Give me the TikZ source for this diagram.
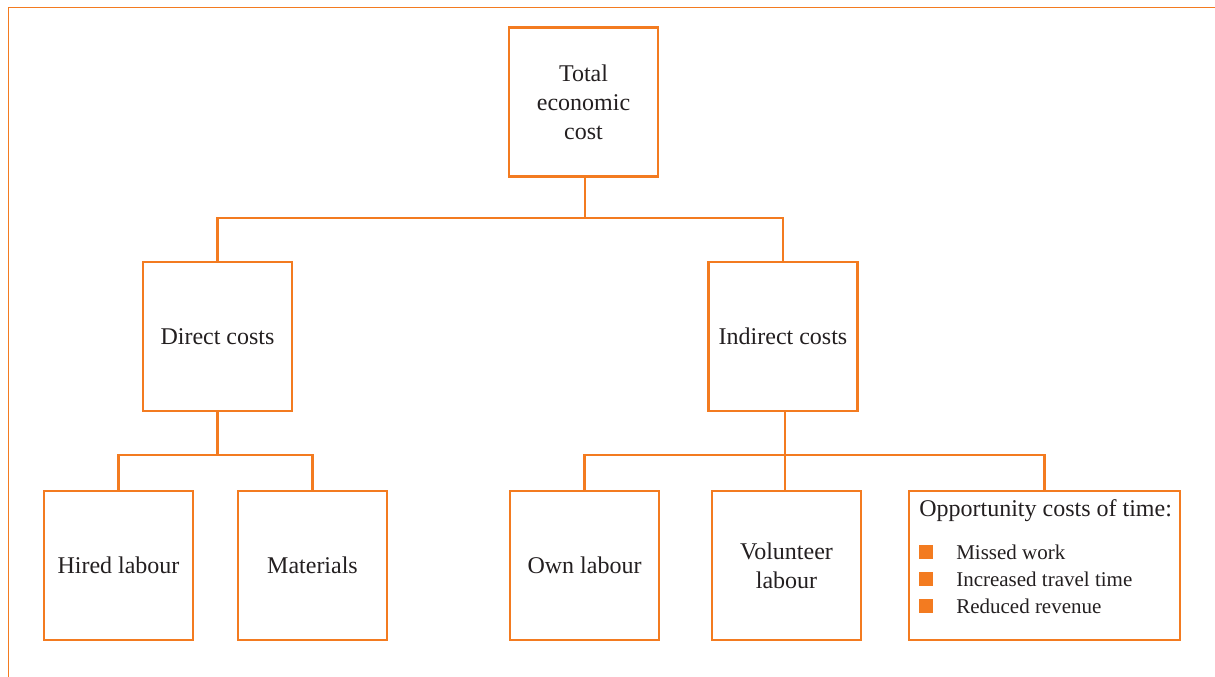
\documentclass[tikz,border=0pt]{standalone}
\usepackage{fontspec}
\setmainfont{Liberation Serif}
\usepackage{tikz}
\usetikzlibrary{positioning, calc}
\definecolor{costorange}{RGB}{243, 123, 32}
\definecolor{textgray}{RGB}{35, 31, 32}

\begin{document}
\begin{tikzpicture}[x=0.75pt, y=-0.75pt,
  box/.style={draw=costorange, line width=1.7pt, rectangle, minimum width=111.75pt, minimum height=111.75pt, align=center, text=textgray, font=\fontsize{18}{21.75}\selectfont},
  link/.style={draw=costorange, line width=1.7pt},
  bullet/.style={fill=costorange, inner sep=0pt, minimum size=10.5pt, anchor=south west},
  item/.style={anchor=base west, inner sep=0pt, text=textgray, font=\fontsize{15.75}{19}\selectfont},
]
  \useasboundingbox (0,0) rectangle (1215,677);

  % Frame
  \draw[costorange, line width=0.9pt] (8.5,677) -- (8.5,7.5) -- (1215,7.5);

  % Top level
  \node[box] (total) at (583.5,102) {Total\\economic\\cost};

  % Second level
  \node[box] (direct) at (217.5,336.5) {Direct costs};
  \node[box] (indirect) at (783,336.5) {Indirect costs};

  % Third level
  \node[box] (hired) at (118.5,565.5) {Hired labour};
  \node[box] (materials) at (312.5,565.5) {Materials};
  \node[box] (own) at (584.5,565.5) {Own labour};
  \node[box] (volunteer) at (786.5,565.5) {Volunteer\\labour};
  \node[box, minimum width=203.25pt] (opp) at (1044.5,565.5) {};

  % Opportunity costs list
  \node[item, font=\fontsize{18}{21.75}\selectfont] (opphead) at (919,517) {Opportunity costs of time:};
  \foreach \txt [count=\i] in {Missed work, Increased travel time, Reduced revenue} {
    \node[bullet] (sq\i) at (919,559+27*\i-27) {};
    \node[item] (it\i) at (956,559+27*\i-27) {\txt};
  }

  % Junctions
  \coordinate (j1) at (585,218);
  \coordinate (j2) at (217.5,455);
  \coordinate (j3) at (785,455);

  % Connections
  \draw[link] (total.south -| j1) -- (j1);
  \draw[link] (direct.north) |- (j1) -| (indirect.north);
  \draw[link] (direct) -- (j2);
  \draw[link] (hired.north) |- (j2) -| (materials.north);
  \draw[link] (indirect.south -| j3) -- (j3);
  \draw[link] (own.north) |- (j3) -| (opp.north);
  \draw[link] (j3) -- (volunteer.north -| j3);
\end{tikzpicture}
\end{document}
